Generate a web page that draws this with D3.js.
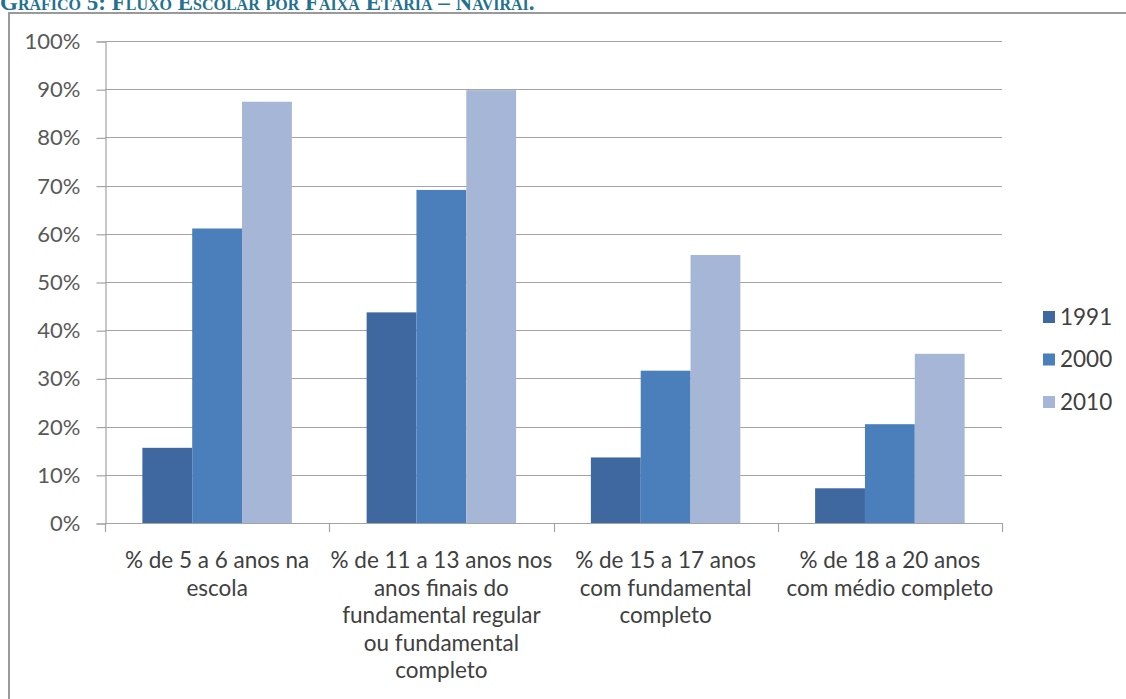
<!DOCTYPE html>
<html>
<head>
<meta charset="utf-8">
<script src="https://cdn.jsdelivr.net/npm/d3@7"></script>
<style>
  html, body { margin: 0; padding: 0; background: #ffffff; }
  svg { display: block; }
</style>
</head>
<body>
<svg id="chart" width="1126" height="699"></svg>
<script>
// Fluxo escolar por faixa etária – Naviraí (1991, 2000, 2010)
const categories = [
  ["% de 5 a 6 anos na", "escola"],
  ["% de 11 a 13 anos nos", "anos finais do", "fundamental regular", "ou fundamental", "completo"],
  ["% de 15 a 17 anos", "com fundamental", "completo"],
  ["% de 18 a 20 anos", "com médio completo"]
];
const series = ["1991", "2000", "2010"];
const values1991 = [0.156, 0.437, 0.136, 0.072];
const values2000 = [0.611, 0.691, 0.316, 0.205];
const values2010 = [0.874, 0.898, 0.556, 0.351];
const colors = ["#3e689f", "#4b7fbc", "#a6b6d6"];
const yTicks = [0, 0.1, 0.2, 0.3, 0.4, 0.5, 0.6, 0.7, 0.8, 0.9, 1.0];
const titleText = "Gráfico 5: Fluxo Escolar por Faixa Etária – Naviraí.";

const seriesValues = [values1991, values2000, values2010];
const catKeys = categories.map(c => c.join(" "));
const rows = catKeys.map((k, i) => ({
  key: k,
  lines: categories[i],
  vals: series.map((s, j) => ({ series: s, value: seriesValues[j][i], color: colors[j] }))
}));

const svg = d3.select("#chart");
const sans = "Lato, 'Open Sans', sans-serif";

// Title (partly cropped at the top edge)
svg.append("text")
  .attr("x", 0)
  .attr("y", 10)
  .attr("font-family", "'Liberation Serif', 'DejaVu Serif', serif")
  .attr("font-weight", "bold")
  .attr("font-size", 23)
  .style("font-variant", "small-caps")
  .attr("fill", "#24718f")
  .text(titleText);

// Chart frame
svg.append("rect")
  .attr("x", 9)
  .attr("y", 13)
  .attr("width", 1140)
  .attr("height", 720)
  .attr("fill", "#ffffff")
  .attr("stroke", "#9a9a9a")
  .attr("stroke-width", 2);

const plot = { left: 105, right: 1002, top: 41, bottom: 523 };

const x0 = d3.scaleBand()
  .domain(catKeys)
  .range([plot.left, plot.right])
  .paddingInner(0)
  .paddingOuter(0);

const x1 = d3.scaleBand()
  .domain(series)
  .range([0, x0.bandwidth()])
  .paddingInner(0)
  .paddingOuter(0.75);

const y = d3.scaleLinear()
  .domain([0, 1])
  .range([plot.bottom, plot.top]);

// Horizontal gridlines
svg.append("g")
  .selectAll("line")
  .data(yTicks.slice(1))
  .join("line")
  .attr("x1", plot.left)
  .attr("x2", plot.right)
  .attr("y1", d => Math.round(y(d)) + 0.5)
  .attr("y2", d => Math.round(y(d)) + 0.5)
  .attr("stroke", "#a3a3a3")
  .attr("stroke-width", 1.2);

// Bars
const groups = svg.append("g")
  .selectAll("g")
  .data(rows)
  .join("g")
  .attr("transform", d => `translate(${x0(d.key)},0)`);

groups.selectAll("rect")
  .data(d => d.vals)
  .join("rect")
  .attr("x", d => x1(d.series))
  .attr("y", d => y(d.value))
  .attr("width", x1.bandwidth())
  .attr("height", d => y(0) - y(d.value))
  .attr("fill", d => d.color);

// Y axis
const yAxis = d3.axisLeft(y)
  .tickValues(yTicks)
  .tickFormat(d3.format(".0%"))
  .tickSize(9)
  .tickPadding(16);

const gy = svg.append("g")
  .attr("transform", `translate(${plot.left + 0.5},0.5)`)
  .call(yAxis);
gy.select(".domain").attr("stroke", "#a3a3a3").attr("stroke-width", 1.2);
gy.selectAll(".tick line").attr("stroke", "#a3a3a3").attr("stroke-width", 1.2);
gy.selectAll(".tick text")
  .attr("font-family", sans)
  .attr("font-size", 22)
  .attr("fill", "#595959");

// X axis: tick marks at category boundaries
const boundaries = catKeys.map(k => x0(k)).concat([plot.right]);
const gx = svg.append("g");
gx.append("line")
  .attr("x1", plot.left)
  .attr("x2", plot.right)
  .attr("y1", plot.bottom + 0.5)
  .attr("y2", plot.bottom + 0.5)
  .attr("stroke", "#a3a3a3")
  .attr("stroke-width", 1.2);
gx.selectAll("line.tk")
  .data(boundaries)
  .join("line")
  .attr("class", "tk")
  .attr("x1", d => Math.round(d) + 0.5)
  .attr("x2", d => Math.round(d) + 0.5)
  .attr("y1", plot.bottom)
  .attr("y2", plot.bottom + 9)
  .attr("stroke", "#a3a3a3")
  .attr("stroke-width", 1.2);

// Category labels (multi-line)
const lineH = 27.5;
gx.selectAll("text.cat")
  .data(rows)
  .join("text")
  .attr("class", "cat")
  .attr("text-anchor", "middle")
  .attr("font-family", sans)
  .attr("font-size", 22.5)
  .attr("fill", "#404040")
  .each(function (d) {
    const t = d3.select(this);
    const cx = x0(d.key) + x0.bandwidth() / 2;
    d.lines.forEach((ln, i) => {
      t.append("tspan")
        .attr("x", cx)
        .attr("y", 568 + i * lineH)
        .text(ln);
    });
  });

// Legend
const legend = svg.append("g")
  .selectAll("g")
  .data(series)
  .join("g")
  .attr("transform", (d, i) => `translate(1043, ${317 + i * 42.5})`);
legend.append("rect")
  .attr("x", 0)
  .attr("y", -6)
  .attr("width", 12)
  .attr("height", 12)
  .attr("fill", (d, i) => colors[i]);
legend.append("text")
  .attr("x", 17)
  .attr("y", 0)
  .attr("dy", "0.35em")
  .attr("font-family", sans)
  .attr("font-size", 22.5)
  .attr("fill", "#404040")
  .text(d => d);
</script>
</body>
</html>
